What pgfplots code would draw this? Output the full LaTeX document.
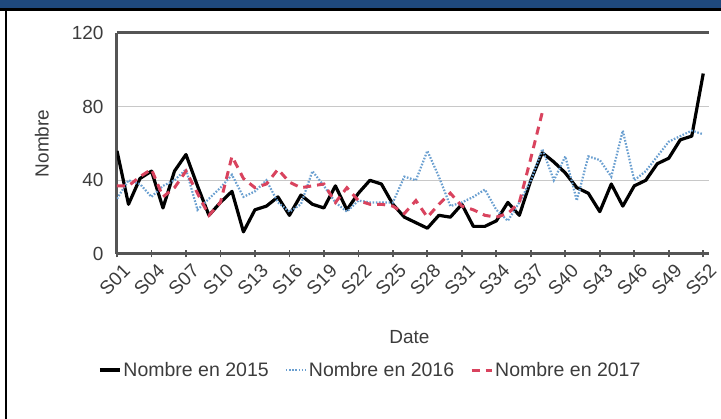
\documentclass[border=0pt]{standalone}
\usepackage{pgfplots}
\pgfplotsset{compat=1.18}
\usepackage{fontspec}
\setmainfont{Liberation Sans}

\definecolor{hdrblue}{HTML}{1F497D}
\definecolor{axiscol}{HTML}{555555}
\definecolor{gridcol}{HTML}{C8C8C8}
\definecolor{txtcol}{HTML}{3C3C3C}
\definecolor{c2016}{HTML}{6A9FD0}
\definecolor{c2017}{HTML}{D9435E}

\begin{document}
\begin{tikzpicture}[x=1pt,y=1pt]
  \path[use as bounding box] (0,0) rectangle (721,419);
  % header bar and frame
  \fill[hdrblue] (0,410) rectangle (721,419);
  \fill[black] (0,408) rectangle (721,410.5);
  \fill[black] (5,0) rectangle (7.3,410);

  \begin{axis}[
      at={(117pt,165pt)}, anchor=south west,
      scale only axis,
      width=592pt, height=221pt,
      xmin=1, xmax=52.5, ymin=0, ymax=120,
      axis x line*=bottom, axis y line*=left,
      every outer x axis line/.append style={axiscol, line width=3pt, -},
      every outer y axis line/.append style={axiscol, line width=3pt, -},
      xtick={1,4,...,52},
      xticklabels={S01,S04,S07,S10,S13,S16,S19,S22,S25,S28,S31,S34,S37,S40,S43,S46,S49,S52},
      x tick style={axiscol, line width=1.8pt},
      xtick align=center, major tick length=7pt,
      ytick={0,40,80},
      extra y ticks={120},
      extra y tick style={grid style={axiscol, line width=3pt}, major tick length=0pt},
      y tick style={draw=none},
      ymajorgrids,
      grid style={gridcol, line width=1.5pt},
      every axis/.append style={font=\fontsize{19}{22}\selectfont},
      tick label style={font=\fontsize{19}{22}\selectfont, text=txtcol},
      /pgf/number format/assume math mode=true,
      yticklabel style={xshift=-10pt},
      xticklabel style={rotate=45, anchor=east, inner sep=0pt, yshift=-14pt, xshift=0pt},
      xlabel={Date}, ylabel={Nombre},
      label style={font=\fontsize{19}{22}\selectfont, text=txtcol},
      xlabel style={at={(axis description cs:0.494,-0.376)}, anchor=center},
      ylabel style={at={(axis description cs:-0.127,0.5)}, anchor=center},
      legend columns=3,
      legend style={at={(axis description cs:0.428,-0.525)}, anchor=center,
        draw=none, fill=none, font=\fontsize{19.5}{22}\selectfont, text=txtcol,
        /tikz/every even column/.append style={column sep=14pt}},
      legend image code/.code={\draw[#1] (0pt,0pt) -- (20pt,0pt);},
    ]

    \addplot[black, line width=3.2pt, line join=round] coordinates {
      (1,56) (2,27) (3,41) (4,45) (5,25) (6,45) (7,54) (8,37) (9,21) (10,28)
      (11,34) (12,12) (13,24) (14,26) (15,31) (16,21) (17,32) (18,27) (19,25) (20,37)
      (21,24) (22,33) (23,40) (24,38) (25,27) (26,20) (27,17) (28,14) (29,21) (30,20)
      (31,27) (32,15) (33,15) (34,18) (35,28) (36,21) (37,40) (38,55) (39,50) (40,44)
      (41,36) (42,33) (43,23) (44,38) (45,26) (46,37) (47,40) (48,49) (49,52) (50,62)
      (51,64) (52,98)
    };
    \addlegendentry{Nombre en 2015}

    \addplot[c2016, line width=2.2pt, dash pattern=on 1.6pt off 1.6pt] coordinates {
      (1,30) (2,40) (3,38) (4,31) (5,37) (6,40) (7,46) (8,24) (9,30) (10,36)
      (11,43) (12,31) (13,34) (14,40) (15,28) (16,23) (17,27) (18,45) (19,37) (20,28)
      (21,23) (22,29) (23,28) (24,28) (25,28) (26,42) (27,40) (28,56) (29,42) (30,26)
      (31,28) (32,31) (33,35) (34,24) (35,18) (36,28) (37,40) (38,57) (39,40) (40,53)
      (41,29) (42,53) (43,51) (44,42) (45,67) (46,40) (47,45) (48,53) (49,61) (50,64)
      (51,67) (52,65)
    };
    \addlegendentry{Nombre en 2016}

    \addplot[c2017, line width=3pt, dash pattern=on 8pt off 6pt] coordinates {
      (1,37) (2,37) (3,42) (4,46) (5,31) (6,36) (7,45) (8,33) (9,21) (10,28)
      (11,53) (12,41) (13,36) (14,38) (15,46) (16,39) (17,36) (18,37) (19,38) (20,28)
      (21,36) (22,29) (23,27) (24,27) (25,26) (26,22) (27,29) (28,20) (29,27) (30,33)
      (31,26) (32,24) (33,21) (34,20) (35,22) (36,28) (37,52) (38,77)
    };
    \addlegendentry{Nombre en 2017}
  \end{axis}
\end{tikzpicture}
\end{document}
